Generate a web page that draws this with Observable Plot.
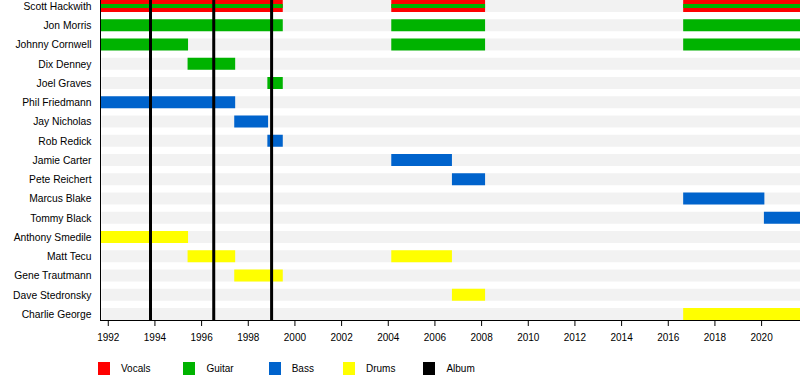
<!DOCTYPE html>
<html>
<head>
<meta charset="utf-8">
<script src="https://cdn.jsdelivr.net/npm/d3@7"></script>
<script src="https://cdn.jsdelivr.net/npm/@observablehq/plot@0.6"></script>
<style>
  body { margin: 0; background: #fff; font-family: "Liberation Sans", Arial, sans-serif; }
  #legend { display: flex; align-items: center; margin-left: 98px; margin-top: 17px; font-size: 10px; color: #000; }
  .item { display: flex; align-items: center; }
  .sw { width: 12px; height: 13px; margin-right: 11px; }
</style>
</head>
<body>
<div id="chart"></div>
<div id="legend"></div>
<script>
const members = ["Scott Hackwith","Jon Morris","Johnny Cornwell","Dix Denney","Joel Graves","Phil Friedmann","Jay Nicholas","Rob Redick","Jamie Carter","Pete Reichert","Marcus Blake","Tommy Black","Anthony Smedile","Matt Tecu","Gene Trautmann","Dave Stedronsky","Charlie George"];
const roles = ["Vocals","Guitar","Bass","Drums","Album"];
const roleColors = ["#ff0000","#00b300","#0063cc","#ffff00","#000000"];
const timelineStart = 1991.667;
const timelineEnd = 2021.667;
const albums = [1993.81, 1996.52, 1999.0];
const tickYears = [1992,1994,1996,1998,2000,2002,2004,2006,2008,2010,2012,2014,2016,2018,2020];
// [member, role, start, end]
const periods = [
  ["Scott Hackwith","Vocals",timelineStart,1999.5],
  ["Scott Hackwith","Vocals",2004.15,2008.17],
  ["Scott Hackwith","Vocals",2016.66,timelineEnd],
  ["Jon Morris","Guitar",timelineStart,1999.5],
  ["Jon Morris","Guitar",2004.15,2008.17],
  ["Jon Morris","Guitar",2016.66,timelineEnd],
  ["Johnny Cornwell","Guitar",timelineStart,1995.44],
  ["Johnny Cornwell","Guitar",2004.15,2008.17],
  ["Johnny Cornwell","Guitar",2016.66,timelineEnd],
  ["Dix Denney","Guitar",1995.42,1997.46],
  ["Joel Graves","Guitar",1998.84,1999.5],
  ["Phil Friedmann","Bass",timelineStart,1997.46],
  ["Jay Nicholas","Bass",1997.42,1998.87],
  ["Rob Redick","Bass",1998.84,1999.5],
  ["Jamie Carter","Bass",2004.15,2006.75],
  ["Pete Reichert","Bass",2006.75,2008.17],
  ["Marcus Blake","Bass",2016.66,2020.14],
  ["Tommy Black","Bass",2020.12,timelineEnd],
  ["Anthony Smedile","Drums",timelineStart,1995.44],
  ["Matt Tecu","Drums",1995.42,1997.46],
  ["Matt Tecu","Drums",2004.15,2006.75],
  ["Gene Trautmann","Drums",1997.42,1999.5],
  ["Dave Stedronsky","Drums",2006.75,2008.17],
  ["Charlie George","Drums",2016.66,timelineEnd]
];
// secondary roles drawn as a thin stripe inside the main bar
const secondary = [
  ["Scott Hackwith","Guitar",timelineStart,1999.5],
  ["Scott Hackwith","Guitar",2004.15,2008.17],
  ["Scott Hackwith","Guitar",2016.66,timelineEnd]
];

const toObj = r => ({name: r[0], role: r[1], start: r[2], end: r[3]});
const main = periods.map(toObj);
const sec = secondary.map(toObj);
const bands = members.map(m => ({name: m, start: timelineStart, end: timelineEnd}));

const chart = Plot.plot({
  width: 800,
  height: 345,
  marginLeft: 100,
  marginRight: 0,
  marginTop: 0,
  marginBottom: 25,
  style: {fontFamily: "'Liberation Sans', Arial, sans-serif", fontSize: "10px", color: "#000", background: "#fff"},
  x: {domain: [timelineStart, timelineEnd], label: null},
  y: {domain: members, paddingInner: 0.377, paddingOuter: 0, round: false, label: null},
  color: {domain: roles, range: roleColors},
  marks: [
    Plot.barX(bands, {y: "name", x1: "start", x2: "end", fill: "#f2f2f2", insetLeft: 1.5}),
    Plot.barX(main, {y: "name", x1: "start", x2: "end", fill: "role"}),
    Plot.barX(sec, {y: "name", x1: "start", x2: "end", fill: "role", insetTop: 4, insetBottom: 4}),
    Plot.ruleX(albums, {stroke: "#000", strokeWidth: 3}),
    Plot.axisY({tickSize: 0, tickPadding: 9, fontSize: "10.3px"}),
    Plot.axisX({ticks: tickYears, tickFormat: d => String(d), tickSize: 6, tickPadding: 7}),
    Plot.frame({anchor: "bottom", stroke: "#000"}),
    Plot.frame({anchor: "left", stroke: "#000"})
  ]
});
document.getElementById("chart").appendChild(chart);

const legend = document.getElementById("legend");
const gaps = [33, 35, 29, 28, 0];
roles.forEach((r, i) => {
  const it = document.createElement("div");
  it.className = "item";
  it.style.marginRight = gaps[i] + "px";
  const sw = document.createElement("div");
  sw.className = "sw";
  sw.style.background = roleColors[i];
  const tx = document.createElement("span");
  tx.textContent = r;
  it.appendChild(sw); it.appendChild(tx);
  legend.appendChild(it);
});
</script>
</body>
</html>
